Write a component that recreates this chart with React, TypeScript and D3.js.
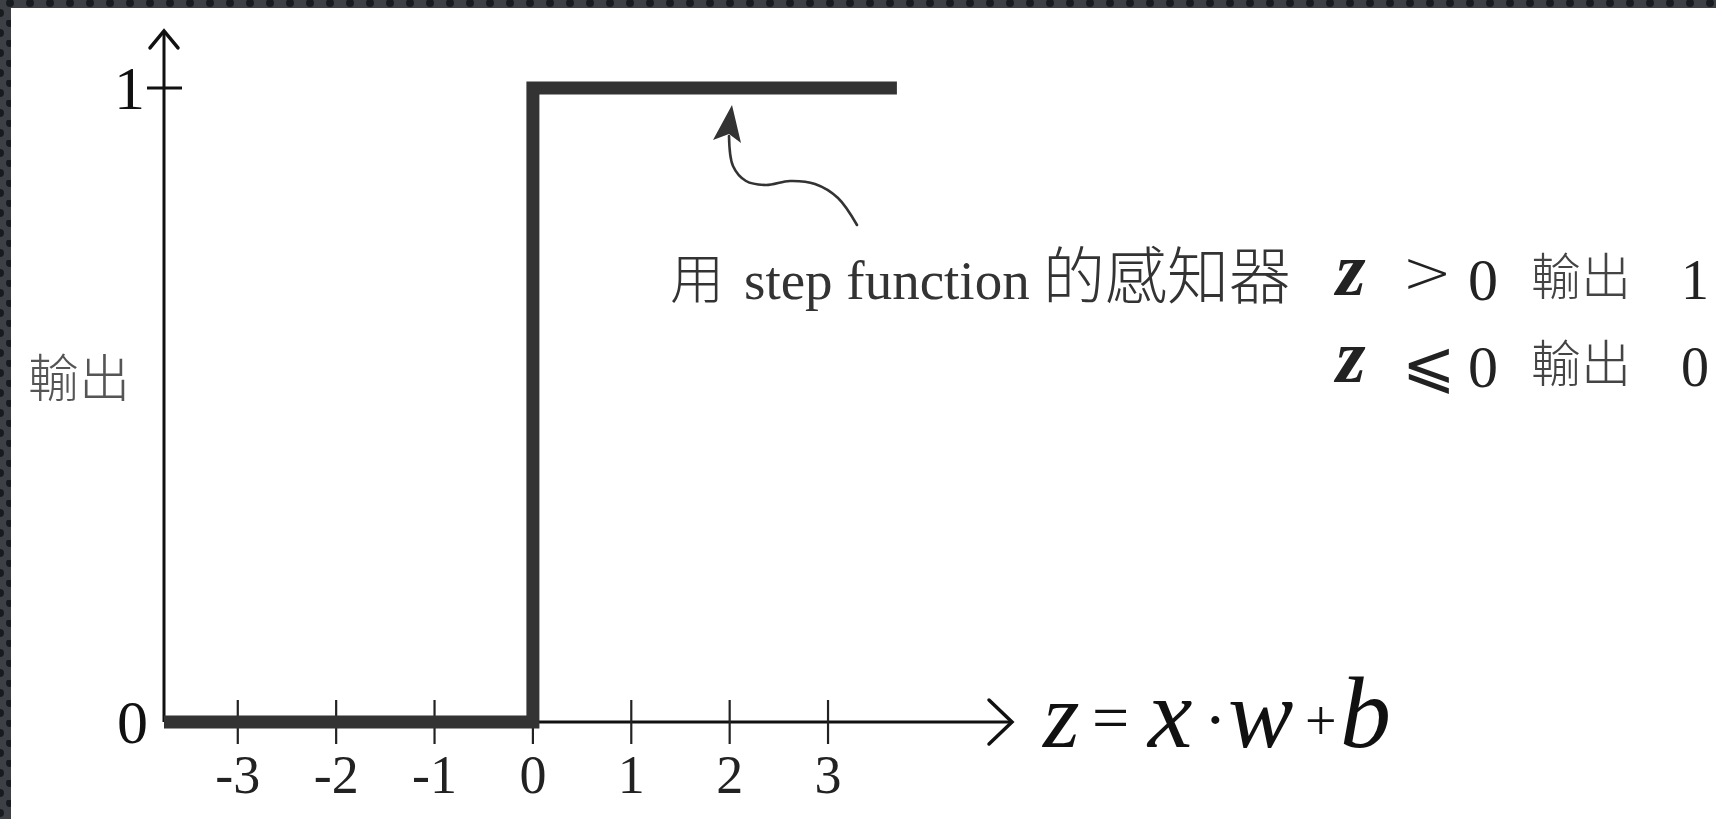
import React from "react";
import * as d3 from "d3";

// ---- data ----
const xTicks = [-3, -2, -1, 0, 1, 2, 3];
const yTicks = [0, 1];
const stepX = [-3.75, 0, 3.7];
const stepY = [0, 1, 1];
const xDomain = [-3.75, 4.87];
const yAxisTop = 1.09;
const xLabel = ["z", "=", "x", "·", "w", "+", "b"];
const yLabel = "輸出";
const annotation = { cjk1: "用", latin: "step function", cjk2: "的感知器" };
const rules = [
  { rel: ">", val: "0", out: "輸出", res: "1" },
  { rel: "⩽", val: "0", out: "輸出", res: "0" },
];

const W = 1716;
const H = 819;

export default function App() {
  const x = d3.scaleLinear().domain(xDomain).range([164, 1012]);
  const y = d3.scaleLinear().domain([0, 1]).range([722, 88]);
  const pts: [number, number][] = stepX.map((v, i) => [v, stepY[i]]);
  const stepPath = d3
    .line<[number, number]>()
    .x((d) => x(d[0]))
    .y((d) => y(d[1]))
    .curve(d3.curveStepAfter)(pts) as string;

  const x0 = x(xDomain[0]);
  const y0 = y(0);
  const xEnd = x(xDomain[1]);
  const yTop = y(yAxisTop);

  const curvePts: [number, number][] = [
    [857, 225],
    [838, 198],
    [815, 184],
    [790, 181],
    [766, 185],
    [746, 181],
    [733, 166],
    [729, 136],
  ];
  const curvePath = d3.line().curve(d3.curveCatmullRom)(curvePts) as string;

  const serif = "'Liberation Serif', 'Times New Roman', 'Noto Sans CJK TC', serif";
  const cjk = "'Noto Sans CJK TC', 'Noto Sans CJK SC', sans-serif";
  const mathSym = "'DejaVu Sans ExtraLight', 'DejaVu Sans', sans-serif";
  const rowY = (i: number) => 295 + i * 87;

  return (
    <svg
      width={W}
      height={H}
      style={{ position: "absolute", left: 0, top: 0, display: "block", background: "#fff" }}
    >
      <defs>
        <pattern id="dotsTop" x="0" y="0" width="20" height="20" patternUnits="userSpaceOnUse">
          <rect width="20" height="20" fill="#3d4045" />
          <circle cx="10" cy="3" r="4" fill="#181b1f" />
          <circle cx="0" cy="13" r="4" fill="#181b1f" />
          <circle cx="20" cy="13" r="4" fill="#181b1f" />
        </pattern>
      </defs>
      <rect x={0} y={0} width={W} height={H} fill="#fff" />
      {/* textured border */}
      <rect x={0} y={0} width={W} height={8} fill="url(#dotsTop)" />
      <rect x={0} y={0} width={11} height={H} fill="url(#dotsTop)" />

      {/* axes */}
      <line x1={x0} y1={y0} x2={x0} y2={yTop} stroke="#111" strokeWidth={3} />
      <polyline
        points={`${x0 - 14},${yTop + 17} ${x0},${yTop} ${x0 + 14},${yTop + 17}`}
        fill="none"
        stroke="#111"
        strokeWidth={3.5}
        strokeLinecap="round"
        strokeLinejoin="miter"
      />
      <line x1={x0} y1={y0} x2={xEnd} y2={y0} stroke="#111" strokeWidth={3} />
      <polyline
        points={`${xEnd - 23},${y0 - 22} ${xEnd},${y0} ${xEnd - 23},${y0 + 22}`}
        fill="none"
        stroke="#111"
        strokeWidth={3.5}
        strokeLinecap="round"
      />

      {/* x ticks */}
      {xTicks.map((t) => (
        <g key={t}>
          <line x1={x(t)} x2={x(t)} y1={y0 - 22} y2={y0 + 22} stroke="#222" strokeWidth={2.2} />
          <text
            x={x(t)}
            y={793}
            textAnchor="middle"
            fontFamily={serif}
            fontSize={54}
            fill="#222"
          >
            {t < 0 ? `-${Math.abs(t)}` : `${t}`}
          </text>
        </g>
      ))}

      {/* y ticks */}
      {yTicks.map((t) => (
        <g key={t}>
          {t !== 0 && (
            <line x1={x0 - 17} x2={x0 + 18} y1={y(t)} y2={y(t)} stroke="#111" strokeWidth={3} />
          )}
          <text
            x={t === 0 ? 148 : 145}
            y={y(t) + 21}
            textAnchor="end"
            fontFamily={serif}
            fontSize={62}
            fill="#111"
          >
            {t}
          </text>
        </g>
      ))}

      {/* step function */}
      <path
        d={stepPath}
        fill="none"
        stroke="#333"
        strokeWidth={13}
        strokeLinejoin="miter"
        strokeLinecap="butt"
      />

      {/* y label */}
      <text x={28} y={397} fontFamily={cjk} fontWeight={300} fontSize={51} fill="#555">
        {yLabel}
      </text>

      {/* x label */}
      <text x={1043} y={747} fontFamily={serif} fontStyle="italic" fontSize={94} fill="#111">
        {xLabel[0]}
      </text>
      <text x={1092} y={740} fontFamily={serif} fontSize={66} fill="#111">
        {xLabel[1]}
      </text>
      <text x={1148} y={747} fontFamily={serif} fontStyle="italic" fontSize={100} fill="#111">
        {xLabel[2]}
      </text>
      <text x={1204} y={742} fontFamily={serif} fontSize={68} fill="#111">
        {xLabel[3]}
      </text>
      <text x={1228} y={747} fontFamily={serif} fontStyle="italic" fontSize={98} fill="#111">
        {xLabel[4]}
      </text>
      <text x={1305} y={740} fontFamily={serif} fontSize={56} fill="#111">
        {xLabel[5]}
      </text>
      <text x={1340} y={747} fontFamily={serif} fontStyle="italic" fontSize={102} fill="#111">
        {xLabel[6]}
      </text>

      {/* annotation arrow */}
      <path d={curvePath} fill="none" stroke="#333" strokeWidth={2.6} strokeLinecap="round" />
      <path d="M732,105 L713,140 L729,134 L741,143 Z" fill="#333" />

      {/* annotation text */}
      <text x={670} y={299} fontFamily={cjk} fontWeight={300} fontSize={54} fill="#333">
        {annotation.cjk1}
      </text>
      <text x={744} y={299} fontFamily={serif} fontSize={55} fill="#333">
        {annotation.latin}
      </text>
      <text x={1043} y={299} fontFamily={cjk} fontWeight={300} fontSize={62} fill="#333">
        {annotation.cjk2}
      </text>

      {rules.map((r, i) => {
        const by = rowY(i);
        return (
          <g key={i} fill="#222">
            <text x={1336} y={by} fontFamily={serif} fontStyle="italic" fontWeight={700} fontSize={76}>
              z
            </text>
            <text
              x={1402}
              y={i === 0 ? by - 2 : by + 4}
              fontFamily={mathSym}
              fontWeight={200}
              fontSize={i === 0 ? 60 : 64}
            >
              {r.rel}
            </text>
            <text x={1468} y={by + 5} fontFamily={serif} fontSize={60}>
              {r.val}
            </text>
            <text x={1531} y={by} fontFamily={cjk} fontWeight={300} fontSize={50} fill="#444">
              {r.out}
            </text>
            <text x={1681} y={by + 4} fontFamily={serif} fontSize={56}>
              {r.res}
            </text>
          </g>
        );
      })}
    </svg>
  );
}
